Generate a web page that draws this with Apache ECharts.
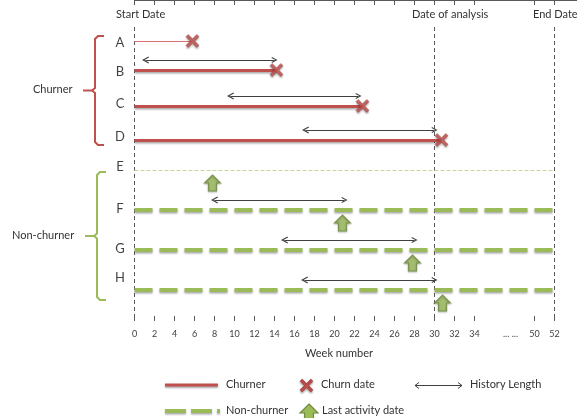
<!DOCTYPE html>
<html><head><meta charset="utf-8">
<script src="https://cdn.jsdelivr.net/npm/echarts@6/dist/echarts.min.js"></script>
<style>html,body{margin:0;padding:0;background:#fff}#c{width:577px;height:418px}</style>
</head><body><div id="c"></div>
<script>
// ---- data (weeks) ----
const rows = ['A','B','C','D','E','F','G','H'];
const churnRows = ['A','B','C','D'];
const churnWeek = [5.8, 14.2, 22.8, 30.7];
const nonChurnRows = ['E','F','G','H'];
const lastActivityWeek = [7.8, 20.8, 27.8, 30.8];
const historyRows = ['B','C','D','F','G','H'];
const historyStart = [1.1, 9.6, 17.1, 8, 15, 17];
const historyEnd = [14, 22.4, 30, 21, 28, 30];
const markerNames = ['Start Date','Date of analysis','End Date'];
const markerWeek = [0, 30, 52];
const tickWeeks = [0,2,4,6,8,10,12,14,16,18,20,22,24,26,28,30,32,34,50,52];
const tickLabels = ['0','2','4','6','8','10','12','14','16','18','20','22','24','26','28','30','32','34','50','52'];

// ---- layout ----
const rowY = [41,70,106,140,170,210,250,290];
const labelY = [43,72,104,137,167,209,249,278];
const historyDy = -10, arrowDy = 13, topY = 27, axisY = 321;
const RED = '#C0504D', GREEN = '#9BBB59', DARK = '#404040';
const FONT = 'Lato, "Liberation Sans", sans-serif';

// broken axis: weeks 0..34 linear, gap, 50..52
function pos(w){ return w <= 34 ? w : 40 + (w - 50); }
const yOf = r => rowY[rows.indexOf(r)];
const tickPos = tickWeeks.map(pos);
const gapPos = 37.6;

const chevron = 'path://M0,9 L5,0 L10,9 L8.4,9.8 L5,3.4 L1.6,9.8 Z';
const crossPath = 'path://M2,0 L6,4 L10,0 L12,2 L8,6 L12,10 L10,12 L6,8 L2,12 L0,10 L4,6 L0,2 Z';
const upArrow = 'path://M8,0 L16,8 L12,8 L12,16 L4,16 L4,8 L0,8 Z';

const shadow = {shadowColor:'rgba(0,0,0,0.35)', shadowBlur:2, shadowOffsetY:1.5};

function pts(arr, ox, oy, s){ return arr.map(p => [ox + p[0]*s, oy + p[1]*s]); }
const crossPts = [[2,0],[6,4],[10,0],[12,2],[8,6],[12,10],[10,12],[6,8],[2,12],[0,10],[4,6],[0,2]];
const arrowPts = [[8,0],[16,8],[12,8],[12,16],[4,16],[4,8],[0,8]];

const chart = echarts.init(document.getElementById('c'), null, {renderer:'canvas'});
const option = {
  animation:false,
  textStyle:{fontFamily:FONT},
  grid:{left:134.5, right:0, top:0, bottom:418-axisY, containLabel:false},
  xAxis:[{
    type:'value', min:0, max:44.25, position:'bottom',
    splitLine:{show:false},
    axisLine:{show:true, lineStyle:{color:'#595959', width:1}},
    axisTick:{show:true, length:5, customValues:tickPos, lineStyle:{color:'#595959'}},
    axisLabel:{show:true, customValues:tickPos.concat([gapPos]), margin:9, fontSize:9, color:DARK, fontFamily:FONT,
      formatter:v => { const i = tickPos.findIndex(p => Math.abs(p - v) < 1e-6); return i >= 0 ? tickLabels[i] : '... ...'; }}
  },{
    type:'value', min:0, max:44.25, position:'bottom',
    splitLine:{show:false}, axisLine:{show:false}, axisLabel:{show:false},
    axisTick:{show:true, inside:true, length:5, customValues:tickPos, lineStyle:{color:'#595959'}}
  }],
  yAxis:{type:'value', min:0, max:axisY, inverse:true, show:false},
  series:[
    { // reference date lines
      type:'lines', coordinateSystem:'cartesian2d', silent:true, z:1,
      lineStyle:{color:'#595959', width:1, type:[4,3], opacity:1},
      data: markerWeek.map(w => ({coords:[[pos(w), topY],[pos(w), axisY]]}))
    },
    { // churners
      type:'lines', coordinateSystem:'cartesian2d', silent:true, z:3,
      data: churnRows.map((r,i) => ({coords:[[0, yOf(r)],[churnWeek[i], yOf(r)]],
        lineStyle: i === 0 ? {color:'#D9716E', width:1, opacity:1}
                           : Object.assign({color:RED, width:3, opacity:1}, shadow)}))
    },
    { // non-churners
      type:'lines', coordinateSystem:'cartesian2d', silent:true, z:3,
      data: nonChurnRows.map((r,i) => ({coords:[[0, yOf(r)],[pos(52), yOf(r)]],
        lineStyle: i === 0 ? {color:'#C3D69B', width:1, type:[4,2], opacity:1}
                           : Object.assign({color:GREEN, width:4, type:[18,7], opacity:1}, shadow)}))
    },
    { // history length
      type:'lines', coordinateSystem:'cartesian2d', silent:true, z:4,
      symbol:[chevron, chevron], symbolSize:[7,6],
      lineStyle:{color:DARK, width:1, opacity:1},
      data: historyRows.map((r,i) => ({coords:[[historyStart[i], yOf(r)+historyDy],[historyEnd[i], yOf(r)+historyDy]]}))
    },
    { // churn date
      type:'scatter', silent:true, z:6, clip:false, symbol:crossPath, symbolSize:13,
      itemStyle:Object.assign({color:RED, borderColor:'#A33B38', borderWidth:0.6}, shadow),
      data: churnRows.map((r,i) => [churnWeek[i], yOf(r)])
    },
    { // last activity date
      type:'scatter', silent:true, z:6, clip:false, symbol:upArrow, symbolSize:[16,16],
      itemStyle:{color:GREEN, borderColor:'#71893F', borderWidth:1.2, shadowColor:'rgba(0,0,0,0.3)', shadowBlur:2, shadowOffsetY:1},
      data: nonChurnRows.map((r,i) => [lastActivityWeek[i], yOf(r)+arrowDy])
    },
    { // row labels
      type:'scatter', silent:true, z:6, clip:false, symbolSize:0,
      label:{show:true, position:'inside', formatter:p => p.name, fontSize:13, color:'#111', fontFamily:FONT},
      data: rows.map((r,i) => ({name:r, value:[-1.45, labelY[i]]}))
    }
  ],
  graphic:[
    // headers
    {type:'text', left:116, top:9, style:{text:markerNames[0], font:'11px '+FONT, fill:'#333'}},
    {type:'text', left:412, top:9, style:{text:markerNames[1], font:'11px '+FONT, fill:'#333'}},
    {type:'text', left:533, top:9, style:{text:markerNames[2], font:'11px '+FONT, fill:'#333'}},
    // brackets
    {type:'polyline', shape:{points:[[104,36],[98,36],[95,39],[95,88],[92,90.5],[83,90.5]]}, style:{stroke:RED, lineWidth:2, fill:null}},
    {type:'polyline', shape:{points:[[92,90.5],[95,93],[95,142],[98,145],[104,145]]}, style:{stroke:RED, lineWidth:2, fill:null}},
    {type:'polyline', shape:{points:[[106,172],[100,172],[97,175],[97,233.5],[94,236],[85,236]]}, style:{stroke:GREEN, lineWidth:2, fill:null}},
    {type:'polyline', shape:{points:[[94,236],[97,238.5],[97,297],[100,300],[106,300]]}, style:{stroke:GREEN, lineWidth:2, fill:null}},
    {type:'text', left:33, top:84, style:{text:'Churner', font:'11px '+FONT, fill:'#333'}},
    {type:'text', left:12, top:230, style:{text:'Non-churner', font:'11px '+FONT, fill:'#333'}},
    // axis name
    {type:'text', left:305, top:348, style:{text:'Week number', font:'11px '+FONT, fill:'#333'}},
    // legend row 1
    {type:'line', shape:{x1:165,y1:385,x2:218,y2:385}, style:Object.assign({stroke:RED, lineWidth:3}, shadow)},
    {type:'text', left:226, top:379, style:{text:'Churner', font:'11px '+FONT, fill:'#333'}},
    {type:'polygon', shape:{points:pts(crossPts, 300, 379, 13/12)}, style:Object.assign({fill:RED, stroke:'#A33B38', lineWidth:0.6}, shadow)},
    {type:'text', left:321, top:379, style:{text:'Churn date', font:'11px '+FONT, fill:'#333'}},
    {type:'line', shape:{x1:415,y1:385.5,x2:462,y2:385.5}, style:{stroke:DARK, lineWidth:1}},
    {type:'polyline', shape:{points:[[419,382.5],[415,385.5],[419,388.5]]}, style:{stroke:DARK, lineWidth:1, fill:null}},
    {type:'polyline', shape:{points:[[458,382.5],[462,385.5],[458,388.5]]}, style:{stroke:DARK, lineWidth:1, fill:null}},
    {type:'text', left:470, top:379, style:{text:'History Length', font:'11px '+FONT, fill:'#333'}},
    // legend row 2
    {type:'line', shape:{x1:165,y1:411,x2:220,y2:411}, style:Object.assign({stroke:GREEN, lineWidth:4, lineDash:[21,5]}, shadow)},
    {type:'text', left:226, top:405, style:{text:'Non-churner', font:'11px '+FONT, fill:'#333'}},
    {type:'polygon', shape:{points:pts(arrowPts, 300, 404, 18/16)}, style:{fill:GREEN, stroke:'#71893F', lineWidth:1.2}},
    {type:'text', left:322, top:405, style:{text:'Last activity date', font:'11px '+FONT, fill:'#333'}}
  ]
};
chart.setOption(option);
</script>
</body></html>
